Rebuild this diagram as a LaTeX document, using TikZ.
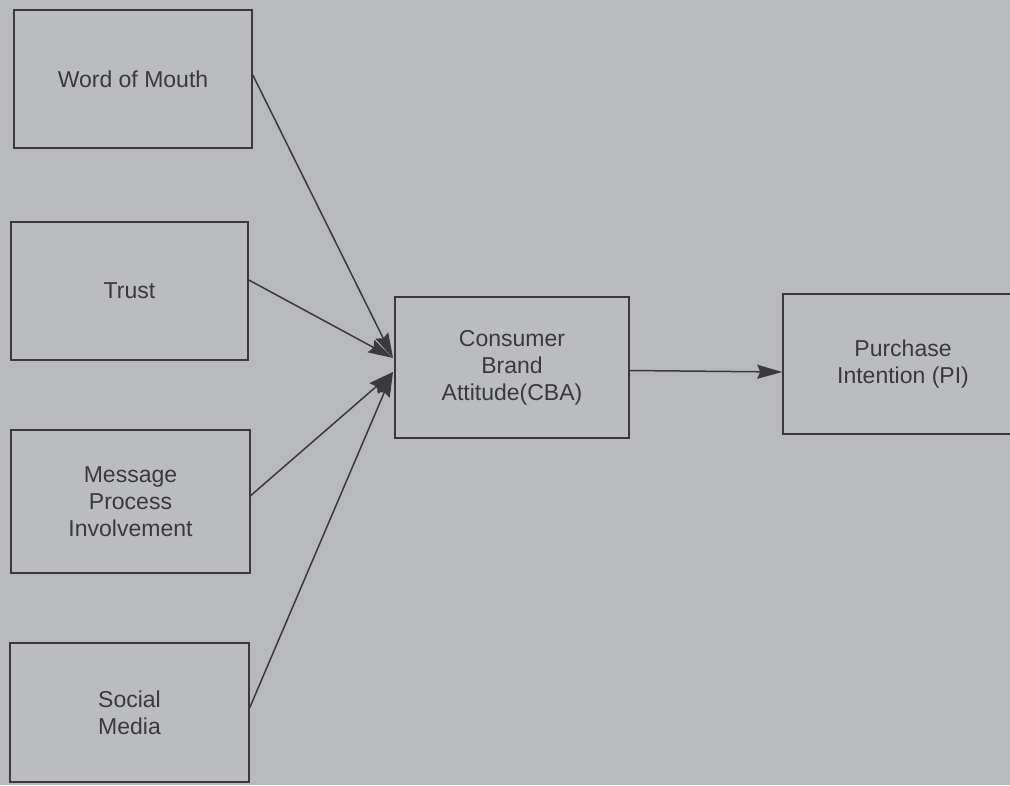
\documentclass[tikz,border=0pt]{standalone}
\usepackage{fontspec}
\setmainfont{Liberation Sans}
\usetikzlibrary{arrows.meta}
\definecolor{paper}{HTML}{B7B9BC}
\definecolor{ink}{HTML}{3A3A3C}
\begin{document}
\begin{tikzpicture}[x=1pt,y=-1pt,
  box/.style={draw=ink, line width=1.6pt, fill=paper!96!white, inner sep=0pt, align=center,
    font=\fontsize{23}{27}\selectfont, text=ink},
  conn/.style={draw=ink, line width=1.5pt, -{Stealth[length=25pt,width=14pt,inset=3pt]}}]
\clip (0,0) rectangle (1010,785);
\fill[paper] (0,0) rectangle (1010,785);
\node[box, minimum width=238pt, minimum height=138pt] (wom) at (133,79) {Word of Mouth};
\node[box, minimum width=237pt, minimum height=138pt] (trust) at (129.5,291) {Trust};
\node[box, minimum width=239pt, minimum height=143pt] (msg) at (130.5,501.5) {Message\\Process\\Involvement};
\node[box, minimum width=239pt, minimum height=139pt] (soc) at (129.5,712.5) {Social\\Media};
\node[box, minimum width=234pt, minimum height=141pt] (cba) at (512,367.5) {Consumer\\Brand\\Attitude(CBA)};
\node[box, minimum width=240pt, minimum height=140pt] (pi) at (903,364) {Purchase\\Intention (PI)};
\coordinate (t1) at (393,358);
\coordinate (t2) at (393,372);
\draw[conn] (wom.east) ++(0,-4) -- (t1);
\draw[conn] (trust.east) ++(0,-11) -- (t1);
\draw[conn] (msg.east) ++(0,-6) -- (t2);
\draw[conn] (soc.east) ++(0,-5) -- (t2);
\draw[conn] (cba.east) ++(0,3) -- (pi.west |- 0,372);
\end{tikzpicture}
\end{document}
